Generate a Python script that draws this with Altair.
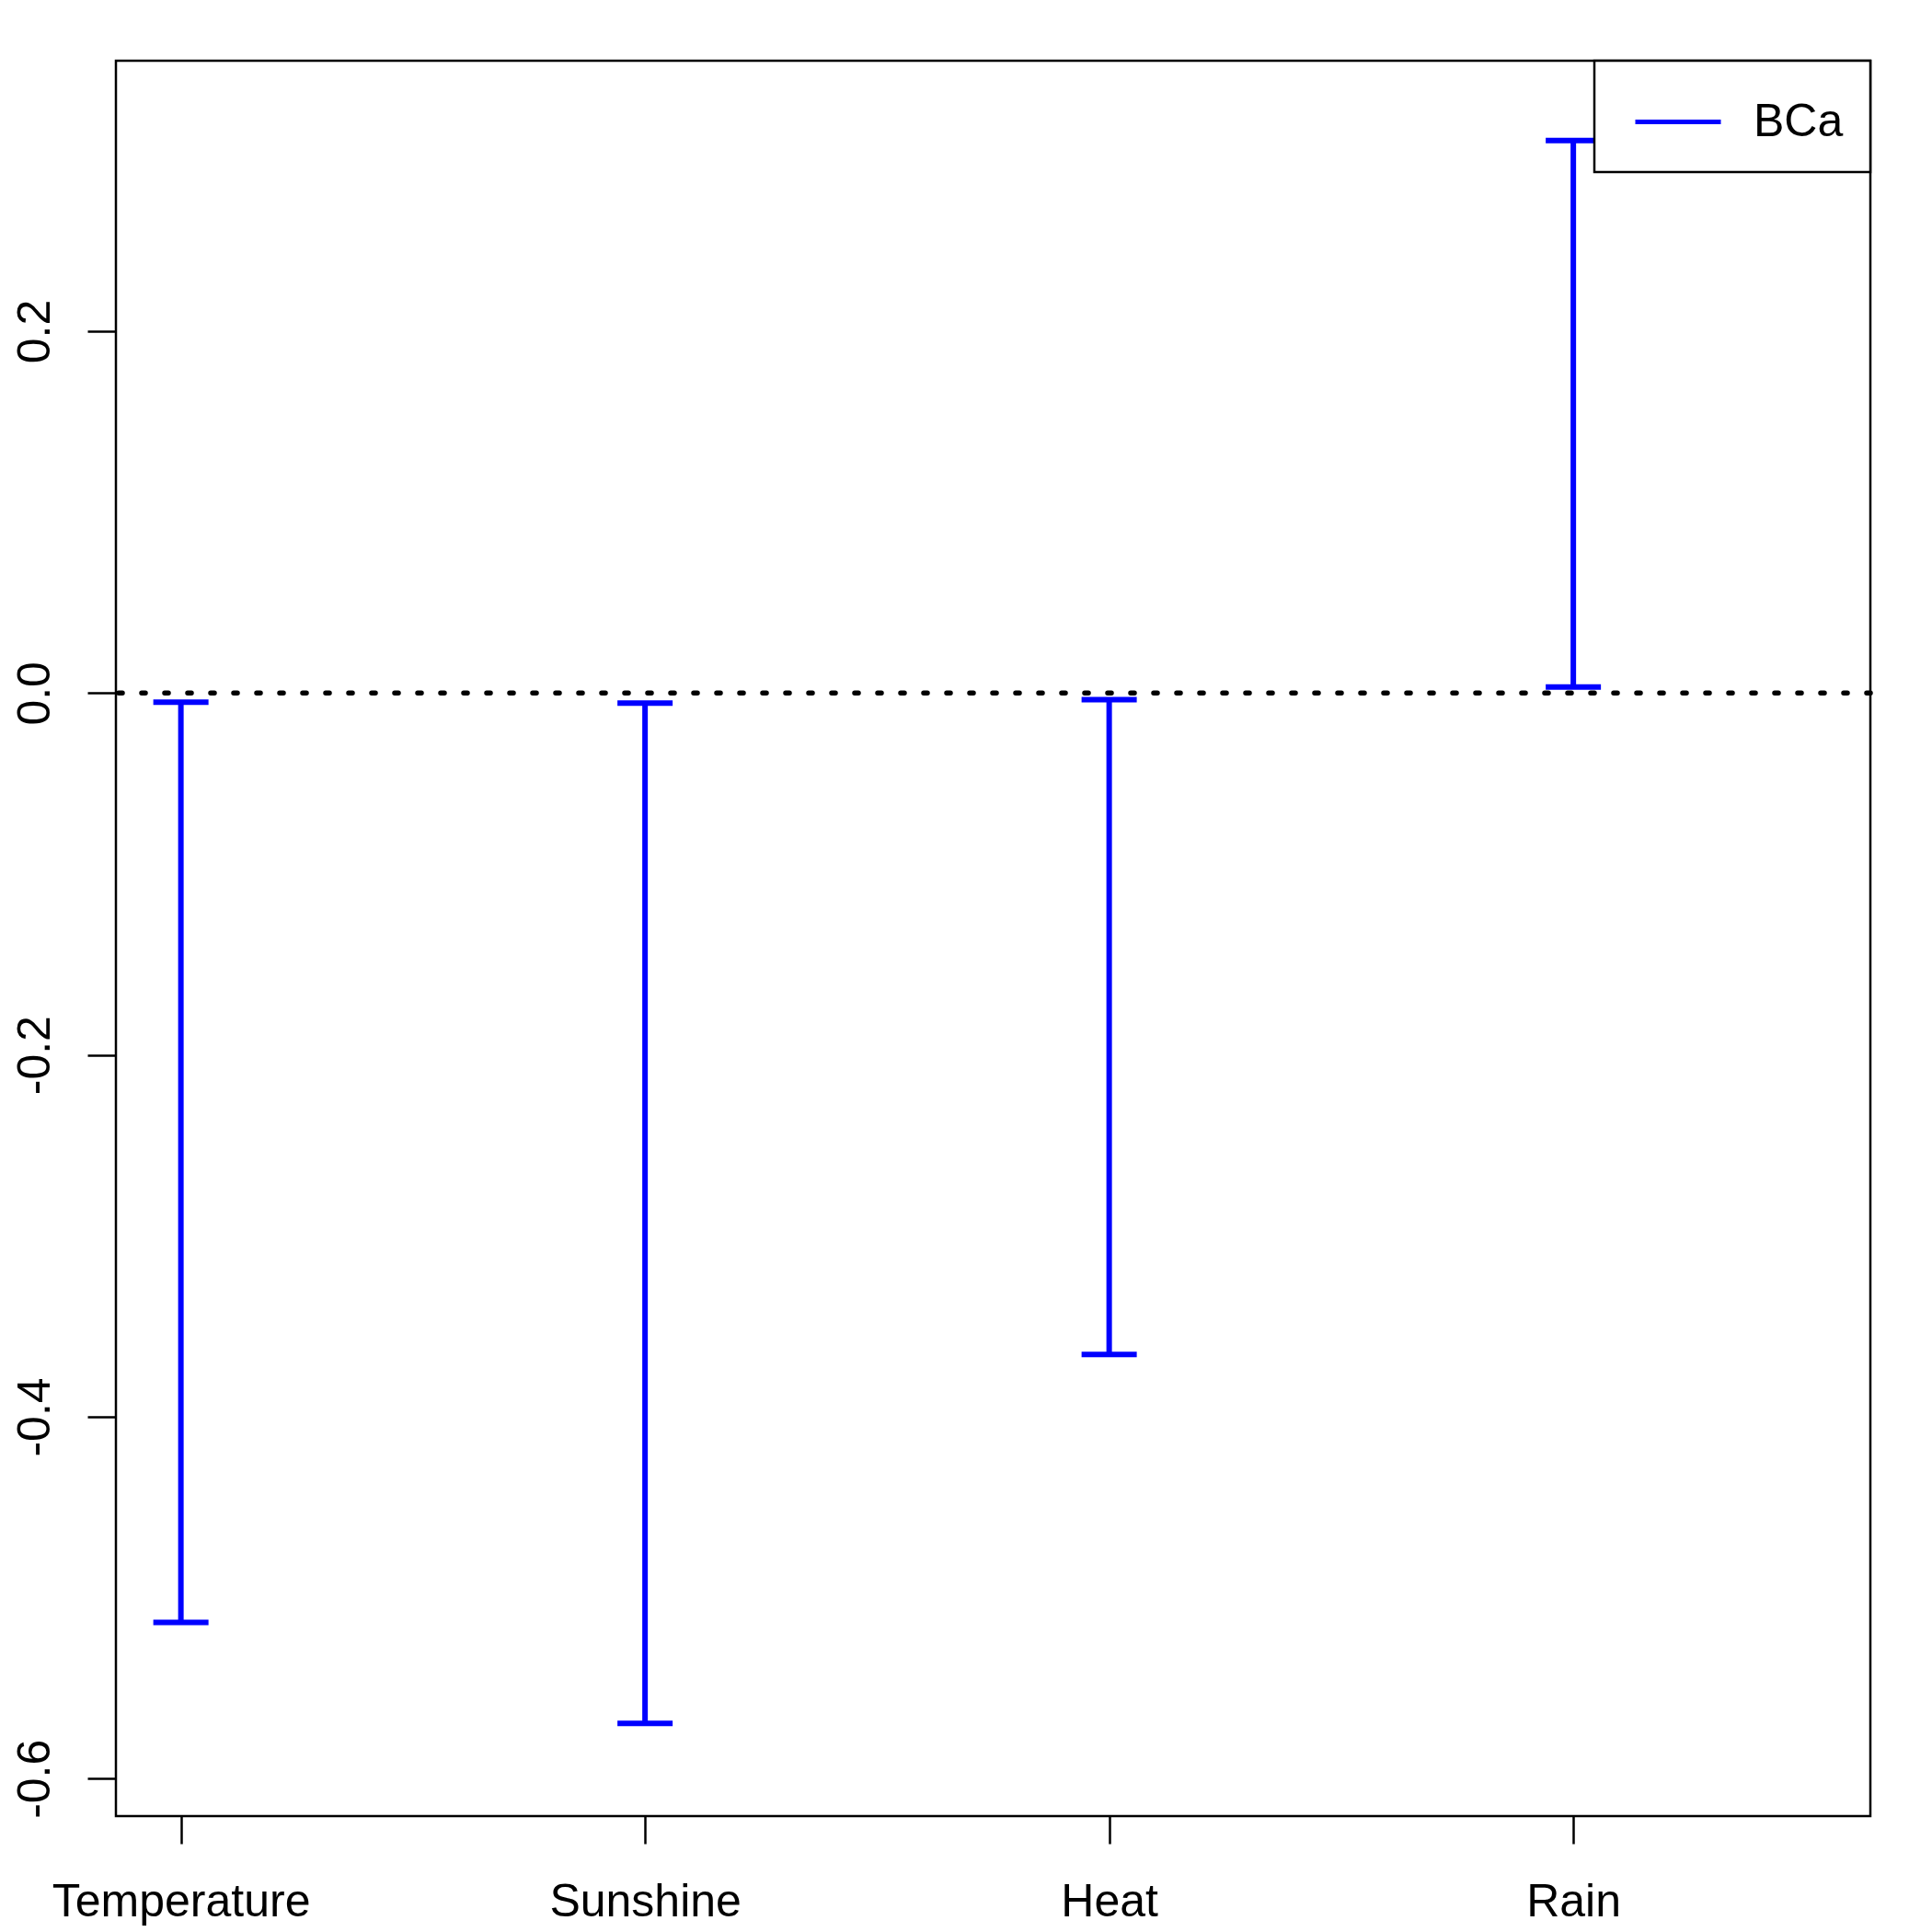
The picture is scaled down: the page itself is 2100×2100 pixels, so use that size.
import altair as alt
import pandas as pd

variables = ["Temperature", "Sunshine", "Heat", "Rain"]
positions = [1, 2, 3, 4]
lower = [-0.5136, -0.5695, -0.3656, 0.0034]
upper = [-0.0051, -0.0056, -0.0036, 0.3054]
method = ["BCa", "BCa", "BCa", "BCa"]

df = pd.DataFrame({"var": variables, "pos": positions, "lo": lower, "hi": upper, "method": method})

FONT = "Liberation Sans"

xscale = alt.Scale(domain=[0.86, 4.64], nice=False, zero=False)
yscale = alt.Scale(domain=[-0.6207, 0.3495], nice=False, zero=False)

label_expr = "datum.value == 1 ? 'Temperature' : datum.value == 2 ? 'Sunshine' : datum.value == 3 ? 'Heat' : datum.value == 4 ? 'Rain' : ''"

color = alt.Color(
    "method:N",
    scale=alt.Scale(domain=["BCa"], range=["#0000FF"]),
    legend=alt.Legend(
        title=None,
        orient="top-right",
        offset=0,
        symbolType="M-0.6286,0H2.0286",
        symbolSize=4900,
        symbolStrokeWidth=5,
        symbolOpacity=1,
        labelFont=FONT,
        labelFontSize=50,
        labelColor="black",
        labelOffset=69,
        labelLimit=0,
        padding=29,
        strokeColor="black",
        fillColor="white",
        cornerRadius=0,
    ),
)

base = alt.Chart(df)

xenc = alt.X(
    "pos:Q",
    scale=xscale,
    axis=alt.Axis(
        title=None,
        values=positions,
        labelExpr=label_expr,
        domain=False,
        grid=False,
        tickSize=30,
        tickWidth=2.5,
        tickColor="black",
        labelFont=FONT,
        labelFontSize=50,
        labelColor="black",
        labelBaseline="alphabetic",
        labelPadding=78,
        labelAlign="center",
        labelOverlap=False,
        labelLimit=0,
    ),
)

yaxis = alt.Axis(
    title=None,
    values=[-0.6, -0.4, -0.2, 0.0, 0.2],
    labelExpr="replace(format(datum.value, '.1f'), '\u2212', '-')",
    domain=False,
    grid=False,
    tickSize=31,
    tickWidth=2.5,
    tickColor="black",
    labelFont=FONT,
    labelFontSize=50,
    labelColor="black",
    labelAngle=270,
    labelAlign="center",
    labelBaseline="alphabetic",
    labelPadding=42,
    labelLimit=0,
)

bars = base.mark_rule(strokeWidth=6, opacity=1).encode(
    x=xenc,
    y=alt.Y("lo:Q", scale=yscale, axis=yaxis),
    y2="hi:Q",
    color=color,
)

cap_lo = base.mark_tick(orient="horizontal", size=60, thickness=6, opacity=1).encode(
    x=alt.X("pos:Q", scale=xscale),
    y=alt.Y("lo:Q", scale=yscale),
    color=color,
)
cap_hi = base.mark_tick(orient="horizontal", size=60, thickness=6, opacity=1).encode(
    x=alt.X("pos:Q", scale=xscale),
    y=alt.Y("hi:Q", scale=yscale),
    color=color,
)

zero = alt.Chart(pd.DataFrame({"z": [0.0]})).mark_rule(
    color="black", strokeWidth=5.5, strokeDash=[4, 21], strokeCap="round", opacity=1
).encode(y=alt.Y("z:Q", scale=yscale))

chart = alt.layer(zero, bars, cap_lo, cap_hi).properties(
    width=1907,
    height=1908,
    autosize=alt.AutoSizeParams(type="none"),
    padding={"left": 126, "top": 66, "right": 67, "bottom": 126},
    background="white",
).configure_view(stroke="black", strokeWidth=2.5).configure_legend(strokeWidth=2.5)

chart.save("out.html", embed_options={"renderer": "svg", "actions": False})
